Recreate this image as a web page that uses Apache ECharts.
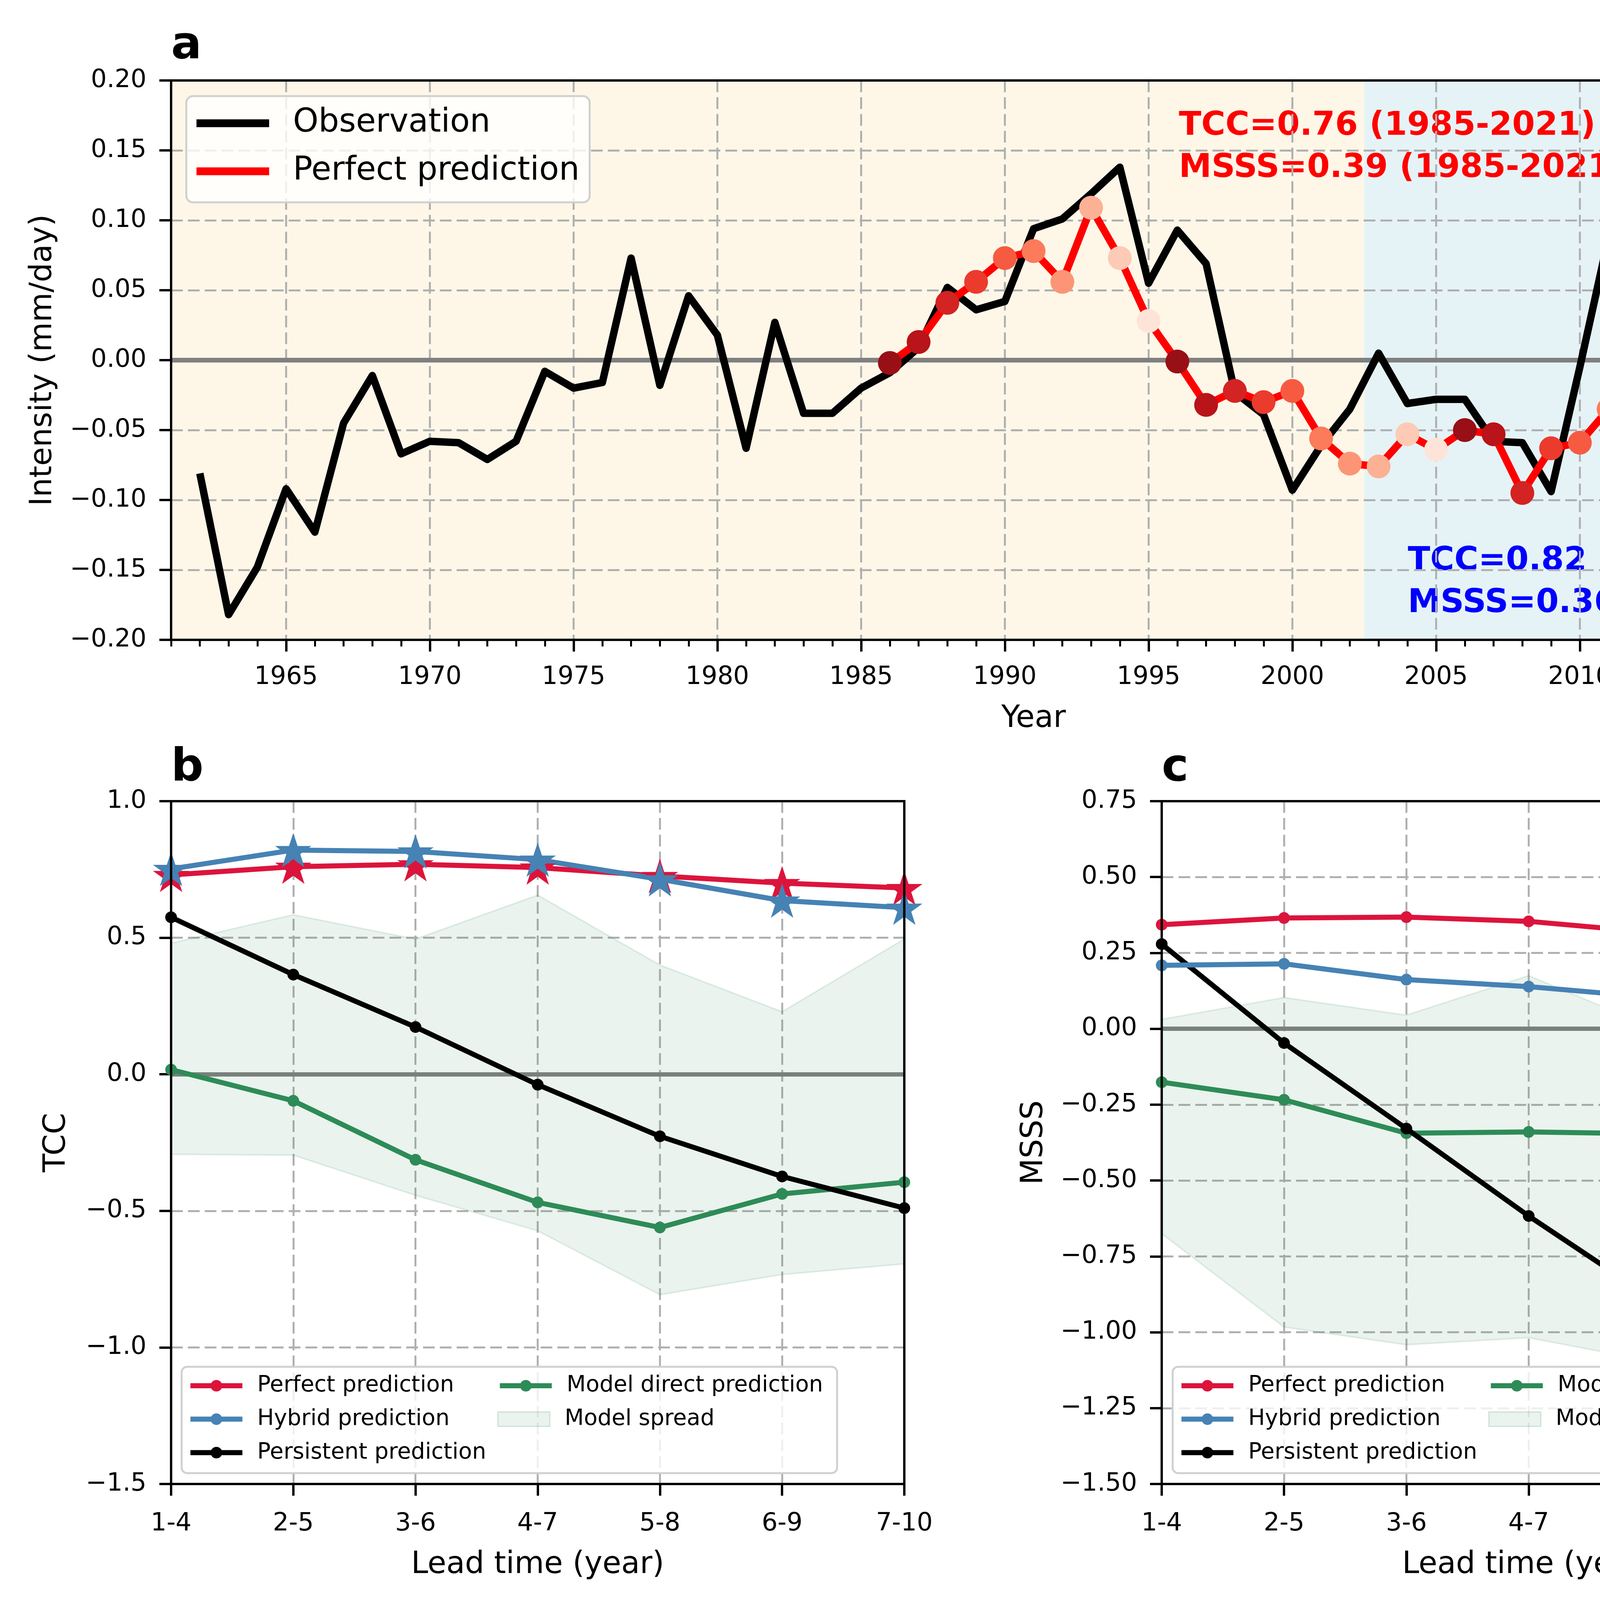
<!DOCTYPE html>
<html>
<head>
<meta charset="utf-8">
<script src="https://cdn.jsdelivr.net/npm/echarts@6/dist/echarts.min.js"></script>
<style>
html, body { margin: 0; padding: 0; background: #fff; }
#main { width: 5379px; height: 4097px; }
</style>
</head>
<body>
<div id="main"></div>
<script>
// ---- panel a : observed intensity and perfect prediction (mm/day) ----
var years = [1962,1963,1964,1965,1966,1967,1968,1969,1970,1971,1972,1973,1974,1975,1976,1977,1978,1979,1980,
  1981,1982,1983,1984,1985,1986,1987,1988,1989,1990,1991,1992,1993,1994,1995,1996,1997,1998,1999,2000,
  2001,2002,2003,2004,2005,2006,2007,2008,2009,2010,2011,2012,2013,2014,2015,2016,2017,2018,2019];
var observation = [-0.081,-0.182,-0.148,-0.092,-0.123,-0.045,-0.011,-0.067,-0.058,-0.059,-0.071,-0.058,-0.008,-0.020,-0.016,0.073,-0.018,0.046,0.018,
  -0.063,0.027,-0.038,-0.038,-0.020,-0.009,0.009,0.052,0.036,0.042,0.094,0.101,0.119,0.138,0.055,0.093,0.069,-0.023,-0.039,-0.093,
  -0.061,-0.035,0.005,-0.031,-0.028,-0.028,-0.058,-0.059,-0.094,-0.005,0.088,0.117,0.104,0.084,0.050,0.125,0.169,0.134,0.083];
var predYears = [1986,1987,1988,1989,1990,1991,1992,1993,1994,1995,1996,1997,1998,1999,2000,2001,2002,
  2003,2004,2005,2006,2007,2008,2009,2010,2011,2012,2013,2014,2015,2016,2017,2018,2019];
var perfectPred = [-0.002,0.013,0.041,0.056,0.073,0.078,0.056,0.109,0.073,0.028,-0.001,-0.032,-0.022,-0.030,-0.022,-0.056,-0.074,
  -0.076,-0.053,-0.064,-0.050,-0.053,-0.095,-0.063,-0.059,-0.035,-0.023,0.026,0.047,0.039,0.129,0.059,0.058,0.064];
var predLead = [1,2,3,4,5,6,7,8,9,10,1,2,3,4,5,6,7,8,9,10,1,2,3,4,5,6,7,8,9,10,1,2,3,4];
var leadNames = ['1yr','2yr','3yr','4yr','5yr','6yr','7yr','8yr','9yr','10yr'];
var leadColors = ['#990f16','#b81419','#d32322','#eb3b2d','#f65b42','#fb7b5b','#fc9576','#fcb195','#fdcab5','#fee4d8'];
var yearTicks = [1965,1970,1975,1980,1985,1990,1995,2000,2005,2010,2015,2020];

// ---- panels b and c : skill vs lead time ----
var leadTimes = ['1-4','2-5','3-6','4-7','5-8','6-9','7-10'];
var tccPerfect = [0.730,0.760,0.769,0.757,0.726,0.700,0.682];
var tccHybrid = [0.752,0.821,0.816,0.786,0.714,0.636,0.610];
var tccPersistent = [0.575,0.365,0.173,-0.038,-0.227,-0.374,-0.490];
var tccModel = [0.017,-0.097,-0.313,-0.469,-0.561,-0.438,-0.395];
var tccSpreadHi = [0.480,0.584,0.495,0.656,0.400,0.229,0.495];
var tccSpreadLo = [-0.293,-0.296,-0.443,-0.573,-0.807,-0.733,-0.694];
var msssPerfect = [0.343,0.365,0.368,0.354,0.318,0.287,0.271];
var msssHybrid = [0.209,0.214,0.162,0.139,0.104,0.031,0.025];
var msssPersistent = [0.279,-0.047,-0.329,-0.617,-0.886,-1.119,-1.286];
var msssModel = [-0.176,-0.234,-0.344,-0.340,-0.346,-0.374,-0.371];
var msssSpreadHi = [0.031,0.103,0.045,0.175,0.006,-0.086,0.058];
var msssSpreadLo = [-0.675,-0.983,-1.041,-1.018,-1.095,-1.364,-1.650];

var FONT = 'DejaVu Sans';
var STAR = 'path://M0,-1 L0.2245,-0.309 L0.951,-0.309 L0.363,0.118 L0.588,0.809 L0,0.382 L-0.588,0.809 L-0.363,0.118 L-0.951,-0.309 L-0.2245,-0.309 Z';
var GRIDLINE = { show: true, lineStyle: { color: '#b0b0b0', width: 5, type: [30, 13] } };

function fmt(d) {
  return function (v) {
    if (Math.abs(v) < 1e-9) v = 0;
    return (v < 0 ? '\u2212' : '') + Math.abs(v).toFixed(d);
  };
}

function yAxis(gi, min, max, step, dec, name, gap) {
  return {
    type: 'value', gridIndex: gi, min: min, max: max, interval: step,
    name: name, nameLocation: 'middle', nameGap: gap,
    nameTextStyle: { fontSize: 78, color: '#000', fontFamily: FONT },
    axisLine: { show: true, onZero: false, lineStyle: { color: '#000', width: 6 } },
    axisTick: { show: true, length: 30, lineStyle: { color: '#000', width: 6 } },
    axisLabel: { fontSize: 64, color: '#000', margin: 63, fontFamily: FONT, formatter: fmt(dec) },
    splitLine: GRIDLINE
  };
}

function leadAxis(gi) {
  return {
    type: 'category', gridIndex: gi, data: leadTimes, boundaryGap: false,
    name: 'Lead time (year)', nameLocation: 'middle', nameGap: 169,
    nameTextStyle: { fontSize: 78, color: '#000', fontFamily: FONT },
    axisLine: { onZero: false, lineStyle: { color: '#000', width: 6 } },
    axisTick: { interval: 0, length: 30, lineStyle: { color: '#000', width: 6 } },
    axisLabel: { interval: 0, fontSize: 64, color: '#000', margin: 70, fontFamily: FONT },
    splitLine: { show: true, interval: 0, lineStyle: GRIDLINE.lineStyle }
  };
}

function zeroLine(xi, yi, w) {
  return {
    name: 'zero' + xi, type: 'line', xAxisIndex: xi, yAxisIndex: yi, data: [], silent: true,
    markLine: { silent: true, z: 1, symbol: 'none', label: { show: false }, animation: false,
      lineStyle: { color: '#808080', width: w, type: 'solid' }, data: [{ yAxis: 0 }] }
  };
}

function skillSeries(xi, yi, perfect, hybrid, persistent, model, hi, lo, stars) {
  var tag = 'g' + xi;
  var list = [
    { name: 'lo' + tag, type: 'line', xAxisIndex: xi, yAxisIndex: yi, data: lo, stack: 'spr' + tag, stackStrategy: 'all',
      symbol: 'none', z: 1, silent: true, lineStyle: { color: 'rgba(46,139,87,0.13)', width: 4 } },
    { name: 'Model spread', type: 'line', xAxisIndex: xi, yAxisIndex: yi, stack: 'spr' + tag, stackStrategy: 'all',
      data: hi.map(function (v, i) { return v - lo[i]; }),
      symbol: 'none', z: 1, silent: true, itemStyle: { color: 'rgba(46,139,87,0.10)' },
      lineStyle: { color: 'rgba(46,139,87,0.13)', width: 4 }, areaStyle: { color: 'rgba(46,139,87,0.10)', opacity: 1 } },
    zeroLine(xi, yi, 11)
  ];
  var lines = [
    ['Model direct prediction', model, '#2e8b57', 3],
    ['Persistent prediction', persistent, '#000000', 4],
    ['Perfect prediction', perfect, '#dc143c', 5],
    ['Hybrid prediction', hybrid, '#4682b4', 6]
  ];
  lines.forEach(function (l) {
    list.push({ name: l[0], type: 'line', xAxisIndex: xi, yAxisIndex: yi, data: l[1], z: l[3],
      symbol: 'circle', symbolSize: 30, showSymbol: true, showAllSymbol: true,
      itemStyle: { color: l[2] }, lineStyle: { color: l[2], width: 13 } });
  });
  if (stars) {
    list.push({ name: 'starP' + tag, type: 'scatter', xAxisIndex: xi, yAxisIndex: yi, data: perfect, z: 7,
      symbol: STAR, symbolSize: [93, 88], itemStyle: { color: '#dc143c', opacity: 1 } });
    list.push({ name: 'starH' + tag, type: 'scatter', xAxisIndex: xi, yAxisIndex: yi, data: hybrid, z: 8,
      symbol: STAR, symbolSize: [93, 88], itemStyle: { color: '#4682b4', opacity: 1 } });
  }
  return list;
}

function skillLegend(left) {
  return {
    show: true, selectedMode: false, orient: 'horizontal', left: left, top: 3499, width: 1800,
    padding: [20, 36, 24, 16], itemGap: 28.6, itemWidth: 133, itemHeight: 37,
    backgroundColor: 'rgba(255,255,255,0.8)', borderColor: '#d0d0d0', borderWidth: 5, borderRadius: 14,
    lineStyle: { width: 13 },
    textStyle: { fontSize: 57, lineHeight: 57, width: 586, color: '#000', fontFamily: FONT, padding: [0, 0, 0, 33] },
    data: ['Perfect prediction', 'Model direct prediction', 'Hybrid prediction',
      { name: 'Model spread', icon: 'rect', itemStyle: { color: 'rgba(46,139,87,0.10)', borderColor: 'rgba(46,139,87,0.2)', borderWidth: 3 } },
      'Persistent prediction']
  };
}

var minorYears = [];
for (var yy = 1961; yy <= 2021; yy++) if (yy % 5 !== 0) minorYears.push(yy);

var seriesA = [
  { name: 'bgA', type: 'line', xAxisIndex: 0, yAxisIndex: 0, data: [], silent: true,
    markArea: { silent: true, z: -1, animation: false, data: [
      [{ xAxis: 1961, itemStyle: { color: '#fef7e8' } }, { xAxis: 2002.5 }],
      [{ xAxis: 2002.5, itemStyle: { color: '#e5f3f7' } }, { xAxis: 2021 }]
    ] } },
  zeroLine(0, 0, 12),
  { name: 'obs', type: 'line', xAxisIndex: 0, yAxisIndex: 0, z: 3, symbol: 'none',
    data: years.map(function (y, i) { return [y, observation[i]]; }),
    itemStyle: { color: '#000' }, lineStyle: { color: '#000', width: 19, join: 'round' } },
  { name: 'perfA', type: 'line', xAxisIndex: 0, yAxisIndex: 0, z: 4, symbol: 'none',
    data: predYears.map(function (y, i) { return [y, perfectPred[i]]; }),
    itemStyle: { color: '#ff0000' }, lineStyle: { color: '#ff0000', width: 19, join: 'round' } }
];
leadNames.forEach(function (nm, k) {
  var pts = [];
  predYears.forEach(function (y, i) { if (predLead[i] === k + 1) pts.push([y, perfectPred[i]]); });
  seriesA.push({ name: nm, type: 'scatter', xAxisIndex: 0, yAxisIndex: 0, z: 5, data: pts,
    symbol: 'circle', symbolSize: 61, itemStyle: { color: leadColors[k], opacity: 1 } });
});

var legendText = { obs: 'Observation', perfA: 'Perfect prediction' };
var gridBox = { show: true, borderColor: '#000', borderWidth: 6, backgroundColor: 'transparent', z: 10 };

var option = {
  animation: false,
  backgroundColor: '#ffffff',
  textStyle: { fontFamily: FONT },
  grid: [
    Object.assign({ left: 438, top: 206, width: 4416, height: 1432 }, gridBox),
    Object.assign({ left: 438, top: 2051, width: 1877, height: 1748 }, gridBox),
    Object.assign({ left: 2974, top: 2051, width: 1879, height: 1748 }, gridBox)
  ],
  xAxis: [
    { type: 'value', gridIndex: 0, min: 1961, max: 2021, position: 'bottom',
      name: 'Year', nameLocation: 'middle', nameGap: 164,
      nameTextStyle: { fontSize: 78, color: '#000', fontFamily: FONT },
      axisLine: { onZero: false, lineStyle: { color: '#000', width: 6 } },
      axisTick: { customValues: yearTicks, length: 30, lineStyle: { color: '#000', width: 6 } },
      axisLabel: { customValues: yearTicks, fontSize: 64, color: '#000', margin: 64, fontFamily: FONT,
        formatter: function (v) { return String(Math.round(v)); } },
      splitLine: GRIDLINE },
    { type: 'value', gridIndex: 0, min: 1961, max: 2021, position: 'bottom',
      axisLine: { show: false, onZero: false },
      axisTick: { customValues: minorYears, length: 17, lineStyle: { color: '#000', width: 5 } },
      axisLabel: { show: false }, splitLine: { show: false } },
    leadAxis(1),
    leadAxis(2)
  ],
  yAxis: [
    yAxis(0, -0.2, 0.2, 0.05, 2, 'Intensity (mm/day)', 288),
    yAxis(1, -1.5, 1.0, 0.5, 1, 'TCC', 253),
    yAxis(2, -1.5, 0.75, 0.25, 2, 'MSSS', 287)
  ],
  legend: [
    { show: true, selectedMode: false, orient: 'vertical', left: 477, top: 246,
      padding: [28, 26, 38, 26], itemGap: 40, itemWidth: 186, itemHeight: 20,
      backgroundColor: 'rgba(255,255,255,0.8)', borderColor: '#d0d0d0', borderWidth: 5, borderRadius: 17,
      formatter: function (n) { return legendText[n]; },
      textStyle: { fontSize: 83, lineHeight: 82, color: '#000', fontFamily: FONT, padding: [0, 0, 0, 56] },
      data: [{ name: 'obs', icon: 'rect' }, { name: 'perfA', icon: 'rect' }] },
    { show: true, selectedMode: false, orient: 'vertical', left: 4918, top: 386,
      padding: 0, itemGap: 40.6, itemWidth: 59, itemHeight: 59,
      textStyle: { fontSize: 82, lineHeight: 82, color: '#000', fontFamily: FONT, padding: [0, 0, 0, 116] },
      data: leadNames.map(function (n) { return { name: n, icon: 'circle' }; }) },
    skillLegend(465),
    skillLegend(3002)
  ],
  graphic: [
    { type: 'text', x: 438, y: 119, style: { text: 'a', font: 'bold 116px "DejaVu Sans"', fill: '#000', verticalAlign: 'middle' } },
    { type: 'text', x: 438, y: 1968, style: { text: 'b', font: 'bold 116px "DejaVu Sans"', fill: '#000', verticalAlign: 'middle' } },
    { type: 'text', x: 2974, y: 1968, style: { text: 'c', font: 'bold 116px "DejaVu Sans"', fill: '#000', verticalAlign: 'middle' } },
    { type: 'text', x: 3018, y: 323, style: { text: 'TCC=0.76 (1985-2021)', font: 'bold 84px "DejaVu Sans"', fill: '#ff0000', verticalAlign: 'middle' } },
    { type: 'text', x: 3018, y: 431, style: { text: 'MSSS=0.39 (1985-2021)', font: 'bold 84px "DejaVu Sans"', fill: '#ff0000', verticalAlign: 'middle' } },
    { type: 'text', x: 3604, y: 1437, style: { text: 'TCC=0.82 (2003-2021)', font: 'bold 84px "DejaVu Sans"', fill: '#0000ff', verticalAlign: 'middle' } },
    { type: 'text', x: 3604, y: 1545, style: { text: 'MSSS=0.36 (2003-2021)', font: 'bold 84px "DejaVu Sans"', fill: '#0000ff', verticalAlign: 'middle' } },
    { type: 'text', x: 5072, y: 306, style: { text: 'Lead', font: '82px "DejaVu Sans"', fill: '#000', align: 'center', verticalAlign: 'middle' } }
  ],
  series: seriesA
    .concat(skillSeries(2, 1, tccPerfect, tccHybrid, tccPersistent, tccModel, tccSpreadHi, tccSpreadLo, true))
    .concat(skillSeries(3, 2, msssPerfect, msssHybrid, msssPersistent, msssModel, msssSpreadHi, msssSpreadLo, false))
};

var chart = echarts.init(document.getElementById('main'), null, { renderer: 'canvas' });
chart.setOption(option);
</script>
</body>
</html>
